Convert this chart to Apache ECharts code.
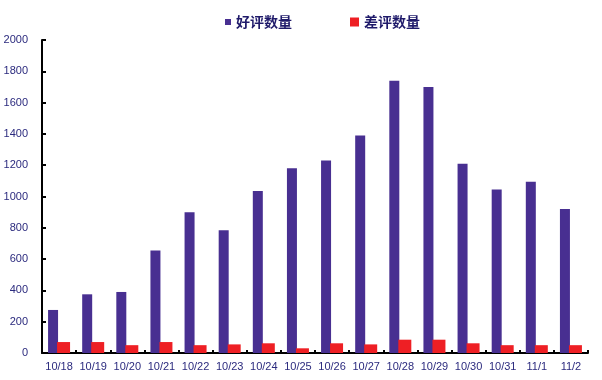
<!DOCTYPE html>
<html>
<head>
<meta charset="utf-8">
<script src="https://cdn.jsdelivr.net/npm/echarts@6/dist/echarts.min.js"></script>
<style>
html,body{margin:0;padding:0;background:#fff;}
#chart{width:602px;height:380px;}
</style>
</head>
<body>
<div id="chart"></div>
<script>
const categories = ['10/18','10/19','10/20','10/21','10/22','10/23','10/24','10/25','10/26','10/27','10/28','10/29','10/30','10/31','11/1','11/2'];
const goodReviews = [275, 375, 390, 655, 900, 785, 1035, 1180, 1230, 1390, 1740, 1700, 1210, 1045, 1095, 920];
const badReviews = [70, 70, 50, 70, 50, 55, 62, 30, 62, 55, 85, 85, 62, 50, 50, 50];
const seriesNames = ['好评数量', '差评数量'];

const textColor = '#2b2a7e';
const chart = echarts.init(document.getElementById('chart'));
chart.setOption({
  animation: false,
  backgroundColor: '#ffffff',
  legend: [
    {
      data: [seriesNames[0]],
      left: 220, top: 10,
      itemWidth: 6, itemHeight: 6, itemGap: 4,
      icon: 'rect',
      textStyle: { color: '#1f1a6a', fontSize: 14, fontWeight: 'bold', fontFamily: 'Noto Sans CJK SC' }
    },
    {
      data: [seriesNames[1]],
      left: 345, top: 10,
      itemWidth: 9, itemHeight: 9, itemGap: 4,
      icon: 'rect',
      textStyle: { color: '#1f1a6a', fontSize: 14, fontWeight: 'bold', fontFamily: 'Noto Sans CJK SC' }
    }
  ],
  grid: { left: 42, right: 14, top: 40, bottom: 27, containLabel: false },
  xAxis: {
    type: 'category',
    data: categories,
    boundaryGap: true,
    axisLine: { show: true, lineStyle: { color: '#000', width: 2 } },
    axisTick: { show: true, inside: true, length: 3, lineStyle: { color: '#000', width: 2 } },
    axisLabel: { color: textColor, fontSize: 11, fontFamily: 'Liberation Sans', margin: 8, interval: 0 },
    splitLine: { show: false }
  },
  yAxis: {
    type: 'value',
    min: 0, max: 2000, interval: 200,
    axisLine: { show: true, lineStyle: { color: '#000', width: 2 } },
    axisTick: { show: true, inside: true, length: 4, lineStyle: { color: '#000', width: 2 } },
    axisLabel: { color: textColor, fontSize: 11, fontFamily: 'Liberation Sans', margin: 14, formatter: v => String(v) },
    splitLine: { show: false }
  },
  series: [
    {
      name: seriesNames[0], type: 'bar', data: goodReviews,
      barWidth: 10, barGap: '-10%',
      itemStyle: { color: '#482f91' }
    },
    {
      name: seriesNames[1], type: 'bar', data: badReviews,
      barWidth: 13,
      itemStyle: { color: '#ee1f24' }
    }
  ]
});
</script>
</body>
</html>
